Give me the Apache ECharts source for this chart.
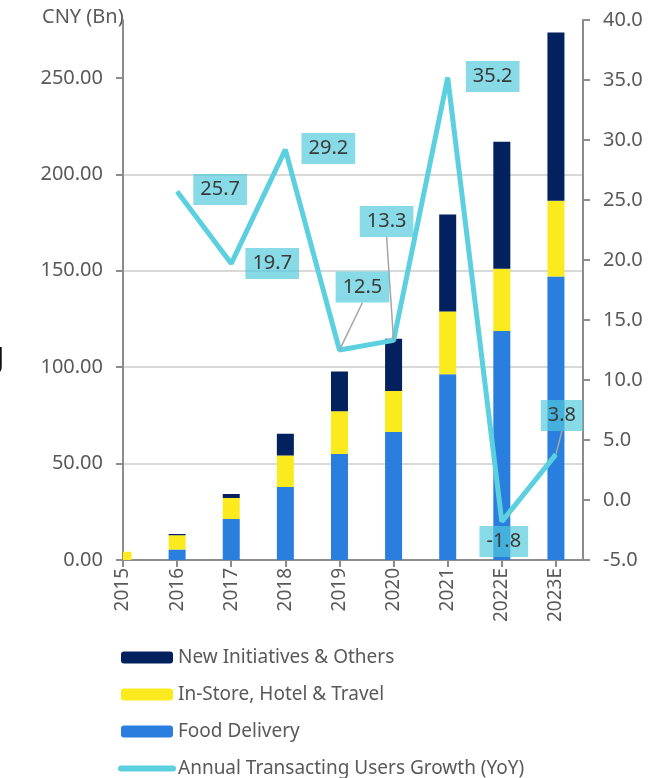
<!DOCTYPE html>
<html lang="en">
<head>
  <meta charset="UTF-8">
  <title>Revenue mix</title>
  <script src="https://cdn.jsdelivr.net/npm/echarts@6/dist/echarts.min.js"></script>
  <style>
    html, body { margin: 0; padding: 0; background: #fff; }
    #main { width: 651px; height: 778px; }
  </style>
</head>
<body>

<div id="main"></div>

<script>
  // categories
  var years = ['2015', '2016', '2017', '2018', '2019', '2020', '2021', '2022E', '2023E'];
  // CNY bn, stacked
  var foodDelivery = [0, 5.5, 21.2, 37.9, 54.9, 66.4, 96.3, 118.7, 147.0];
  var inStore = [4.3, 7.3, 10.9, 16.3, 22.2, 21.2, 32.6, 32.3, 39.3];
  var newInit = [0, 0.7, 2.1, 11.2, 20.6, 27.1, 50.2, 65.9, 87.2];
  // YoY growth %, starts in 2016
  var growth = [null, 25.7, 19.7, 29.2, 12.5, 13.3, 35.2, -1.8, 3.8];
  var leftTicks = [0, 50, 100, 150, 200, 250];

  // where each growth label sits relative to its point
  var labelDx = [0, 43, 41, 43, 23, -7, 45, 2, 6];
  var labelDy = [0, -2, 0, -1, -63, -119, -1, 20, -39];
  var withLeader = [false, false, false, false, true, true, false, false, true];

  var font = 'Noto Sans';
  var grey = '#595959';
  var axisGrey = '#8c8c8c';

  // value first so the stack runs on the y values, x index second
  function pairs(arr) {
    var out = [];
    for (var i = 0; i < arr.length; i++) out.push([arr[i], i]);
    return out;
  }

  var lineData = [];
  var lineIdx = [];
  for (var i = 0; i < growth.length; i++) {
    if (growth[i] === null) continue;
    lineIdx.push(i);
    lineData.push({ value: [i, growth[i]], labelLine: { show: withLeader[i] } });
  }

  function barSeries(name, color, arr) {
    return {
      name: name,
      type: 'bar',
      stack: 'rev',
      barWidth: 17,
      large: true,
      largeThreshold: 1,
      encode: { x: 1, y: 0 },
      itemStyle: { color: color },
      data: pairs(arr)
    };
  }

  var chart = echarts.init(document.getElementById('main'));
  chart.setOption({
    animation: false,
    textStyle: { fontFamily: font },
    grid: { left: 123, right: 68, top: 20, bottom: 218 },
    graphic: [
      { type: 'text', x: 42, y: 7, style: { text: 'CNY (Bn)', font: '20px "Noto Sans"', fill: grey } },
      { type: 'text', x: -5, y: 346, style: { text: 'J', font: 'bold 28px "Noto Sans"', fill: '#111' } }
    ],
    legend: {
      orient: 'vertical',
      left: 118,
      top: 648,
      height: 200,
      padding: 0,
      itemWidth: 52,
      itemHeight: 12,
      itemGap: 18,
      textStyle: { fontSize: 19, color: grey, fontFamily: font },
      data: ['New Initiatives & Others', 'In-Store, Hotel & Travel', 'Food Delivery', {
        name: 'Annual Transacting Users Growth (YoY)',
        itemStyle: { opacity: 0 },
        lineStyle: { width: 6, cap: 'round' }
      }]
    },
    xAxis: {
      type: 'value',
      min: 0,
      max: 8.5,
      interval: 1,
      axisLine: { show: true, lineStyle: { color: axisGrey, width: 2 } },
      axisTick: { show: true, length: 7, customValues: [0, 1, 2, 3, 4, 5, 6, 7, 8], lineStyle: { color: axisGrey, width: 2 } },
      axisLabel: {
        rotate: 90,
        margin: 8,
        fontSize: 19,
        color: grey,
        customValues: [0, 1, 2, 3, 4, 5, 6, 7, 8],
        formatter: function (v) { return years[v] || ''; }
      },
      splitLine: { show: false }
    },
    yAxis: [{
      type: 'value',
      min: 0,
      max: 280,
      interval: 50,
      axisLine: { show: true, lineStyle: { color: axisGrey, width: 2 } },
      axisTick: { show: true, length: 7, customValues: leftTicks, lineStyle: { color: axisGrey, width: 2 } },
      axisLabel: {
        margin: 20, fontSize: 20, color: grey, customValues: leftTicks,
        formatter: function (v) { return v.toFixed(2); }
      },
      splitLine: { show: true, showMaxLine: false, lineStyle: { color: '#d9d9d9', width: 2 } }
    }, {
      type: 'value',
      min: -5,
      max: 40,
      interval: 5,
      position: 'right',
      axisLine: { show: true, lineStyle: { color: axisGrey, width: 2 } },
      axisTick: { show: true, length: 7, lineStyle: { color: axisGrey, width: 2 } },
      axisLabel: {
        margin: 20, fontSize: 20, color: grey,
        formatter: function (v) { return v.toFixed(1); }
      },
      splitLine: { show: false }
    }],
    series: [
      barSeries('Food Delivery', '#2a7fde', foodDelivery),
      barSeries('In-Store, Hotel & Travel', '#fbea1d', inStore),
      barSeries('New Initiatives & Others', '#03215f', newInit),
      {
        name: 'Annual Transacting Users Growth (YoY)',
        type: 'line',
        yAxisIndex: 1,
        z: 5,
        symbol: 'circle',
        symbolSize: 1,
        showAllSymbol: true,
        lineStyle: { color: '#5dd0e0', width: 5 },
        itemStyle: { color: '#5dd0e0' },
        label: {
          show: true,
          position: 'inside',
          fontSize: 20,
          color: '#3a3a3a',
          backgroundColor: 'rgba(80,200,220,0.68)',
          padding: [6, 7, 5, 7],
          formatter: function (p) { return p.value[1].toFixed(1); }
        },
        labelLine: { show: true, lineStyle: { color: '#a6a6a6', width: 1.5 } },
        labelLayout: function (p) {
          var k = lineIdx[p.dataIndex];
          return { dx: labelDx[k], dy: labelDy[k] };
        },
        data: lineData
      }
    ]
  });
</script>
</body>
</html>
